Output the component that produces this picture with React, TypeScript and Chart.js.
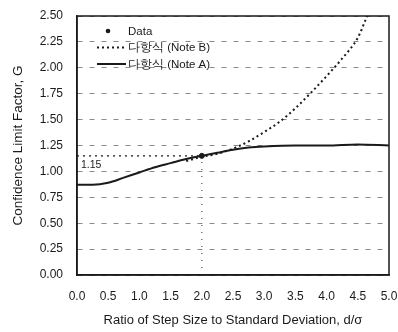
import React, { useEffect, useRef } from "react";
import { Chart, registerables } from "chart.js";

Chart.register(...registerables);

const noteAX = [0, 0.25, 0.5, 0.75, 1.0, 1.25, 1.5, 1.75, 2.0, 2.25, 2.5, 2.75, 3.0, 3.5, 4.0, 4.5, 5.0];
const noteAY = [0.87, 0.87, 0.89, 0.94, 0.99, 1.04, 1.08, 1.12, 1.15, 1.18, 1.21, 1.23, 1.24, 1.25, 1.25, 1.26, 1.25];

const noteBX = [1.75, 2.0, 2.25, 2.5, 2.75, 3.0, 3.25, 3.5, 3.75, 4.0, 4.25, 4.5, 4.65];
const noteBY = [1.1, 1.14, 1.17, 1.22, 1.29, 1.38, 1.48, 1.61, 1.76, 1.92, 2.09, 2.29, 2.5];

const dataX = [2.0];
const dataY = [1.15];

const markValue = 1.15;
const markX = 2.0;

const xTicks = [0, 0.5, 1.0, 1.5, 2.0, 2.5, 3.0, 3.5, 4.0, 4.5, 5.0];
const yTicks = [0, 0.25, 0.5, 0.75, 1.0, 1.25, 1.5, 1.75, 2.0, 2.25, 2.5];

const legendLabels = ["Data", "다항식 (Note B)", "다항식 (Note A)"];

const FONT = "'Liberation Sans', Arial, sans-serif";
const INK = "#1a1a1a";

const zip = (xs: number[], ys: number[]) => xs.map((x, i) => ({ x, y: ys[i] }));

const frameAndLegend = {
  id: "frameAndLegend",
  afterDatasetsDraw(chart: any) {
    const { ctx, chartArea, scales } = chart;
    ctx.save();
    // frame
    ctx.strokeStyle = INK;
    ctx.lineWidth = 1.5;
    ctx.setLineDash([]);
    ctx.strokeRect(chartArea.left, chartArea.top, chartArea.right - chartArea.left, chartArea.bottom - chartArea.top);

    // 1.15 label
    ctx.fillStyle = INK;
    ctx.font = `10.5px ${FONT}`;
    ctx.textAlign = "left";
    ctx.textBaseline = "middle";
    ctx.fillText(markValue.toFixed(2), scales.x.getPixelForValue(0) + 4, scales.y.getPixelForValue(markValue) + 9);

    // legend
    const lx = chartArea.left + 20;
    const ly = chartArea.top + 15;
    const gap = 16.5;
    ctx.font = `11.5px ${FONT}`;
    legendLabels.forEach((label, i) => {
      const y = ly + i * gap;
      if (i === 0) {
        ctx.beginPath();
        ctx.arc(lx + 11, y, 2.3, 0, Math.PI * 2);
        ctx.fillStyle = INK;
        ctx.fill();
      } else {
        ctx.beginPath();
        ctx.strokeStyle = INK;
        ctx.lineWidth = 2;
        ctx.setLineDash(i === 1 ? [2, 3] : []);
        ctx.moveTo(lx, y);
        ctx.lineTo(lx + 29, y);
        ctx.stroke();
        ctx.setLineDash([]);
      }
      ctx.fillStyle = INK;
      ctx.fillText(label, lx + 31, y + 0.5);
    });
    ctx.restore();
  },
};

export default function App() {
  const ref = useRef<HTMLCanvasElement | null>(null);

  useEffect(() => {
    document.body.style.margin = "0";
    const canvas = ref.current;
    if (!canvas) return;
    const chart = new Chart(canvas, {
      type: "scatter",
      data: {
        datasets: [
          {
            label: "guideH",
            data: [{ x: 0, y: markValue }, { x: markX, y: markValue }],
            showLine: true,
            borderColor: INK,
            borderWidth: 1.3,
            borderDash: [2, 4],
            pointRadius: 0,
          },
          {
            label: "guideV",
            data: [{ x: markX, y: 0 }, { x: markX, y: markValue }],
            showLine: true,
            borderColor: "#555",
            borderWidth: 1.2,
            borderDash: [1, 6],
            pointRadius: 0,
          },
          {
            label: legendLabels[2],
            data: zip(noteAX, noteAY),
            showLine: true,
            borderColor: INK,
            borderWidth: 2,
            pointRadius: 0,
            cubicInterpolationMode: "monotone",
          },
          {
            label: legendLabels[1],
            data: zip(noteBX, noteBY),
            showLine: true,
            borderColor: INK,
            borderWidth: 2,
            borderDash: [2, 3],
            pointRadius: 0,
            cubicInterpolationMode: "monotone",
          },
          {
            label: legendLabels[0],
            data: zip(dataX, dataY),
            showLine: false,
            pointRadius: 2.5,
            pointBackgroundColor: INK,
            pointBorderColor: INK,
          },
        ],
      },
      options: {
        responsive: false,
        animation: false,
        layout: { padding: { top: 16, right: 9, bottom: 4, left: 0 } },
        plugins: {
          legend: { display: false },
          tooltip: { enabled: false },
        },
        scales: {
          x: {
            type: "linear",
            min: 0,
            max: 5,
            afterBuildTicks: (axis: any) => {
              axis.ticks = xTicks.map((v) => ({ value: v }));
            },
            afterFit: (axis: any) => {
              axis.height = 53;
              axis.paddingLeft = 0;
              axis.paddingRight = 0;
            },
            grid: { display: false, drawTicks: false },
            border: { display: true, color: INK, width: 1.5 },
            ticks: {
              color: INK,
              font: { family: FONT, size: 12 },
              padding: 14,
              maxRotation: 0,
              callback: (v: any) => Number(v).toFixed(1),
            },
            title: {
              display: true,
              text: "Ratio of Step Size to Standard Deviation, d/σ",
              color: INK,
              font: { family: FONT, size: 13 },
              padding: { top: 9, bottom: 0 },
            },
          },
          y: {
            type: "linear",
            min: 0,
            max: 2.5,
            afterBuildTicks: (axis: any) => {
              axis.ticks = yTicks.map((v) => ({ value: v }));
            },
            afterFit: (axis: any) => {
              axis.width = 77;
              axis.paddingTop = 0;
              axis.paddingBottom = 0;
            },
            grid: {
              display: true,
              drawTicks: false,
              color: "#8a8a8a",
              lineWidth: 1,
            },
            border: { display: true, color: INK, width: 1.5, dash: [5, 7] },
            ticks: {
              color: INK,
              font: { family: FONT, size: 12 },
              padding: 14,
              callback: (v: any) => Number(v).toFixed(2),
            },
            title: {
              display: true,
              text: "Confidence Limit Factor, G",
              color: INK,
              font: { family: FONT, size: 13.5 },
              padding: { top: 10, bottom: 0 },
            },
          },
        },
      },
      plugins: [frameAndLegend],
    } as any);
    return () => chart.destroy();
  }, []);

  return <canvas ref={ref} width={398} height={332} style={{ display: "block" }} />;
}
